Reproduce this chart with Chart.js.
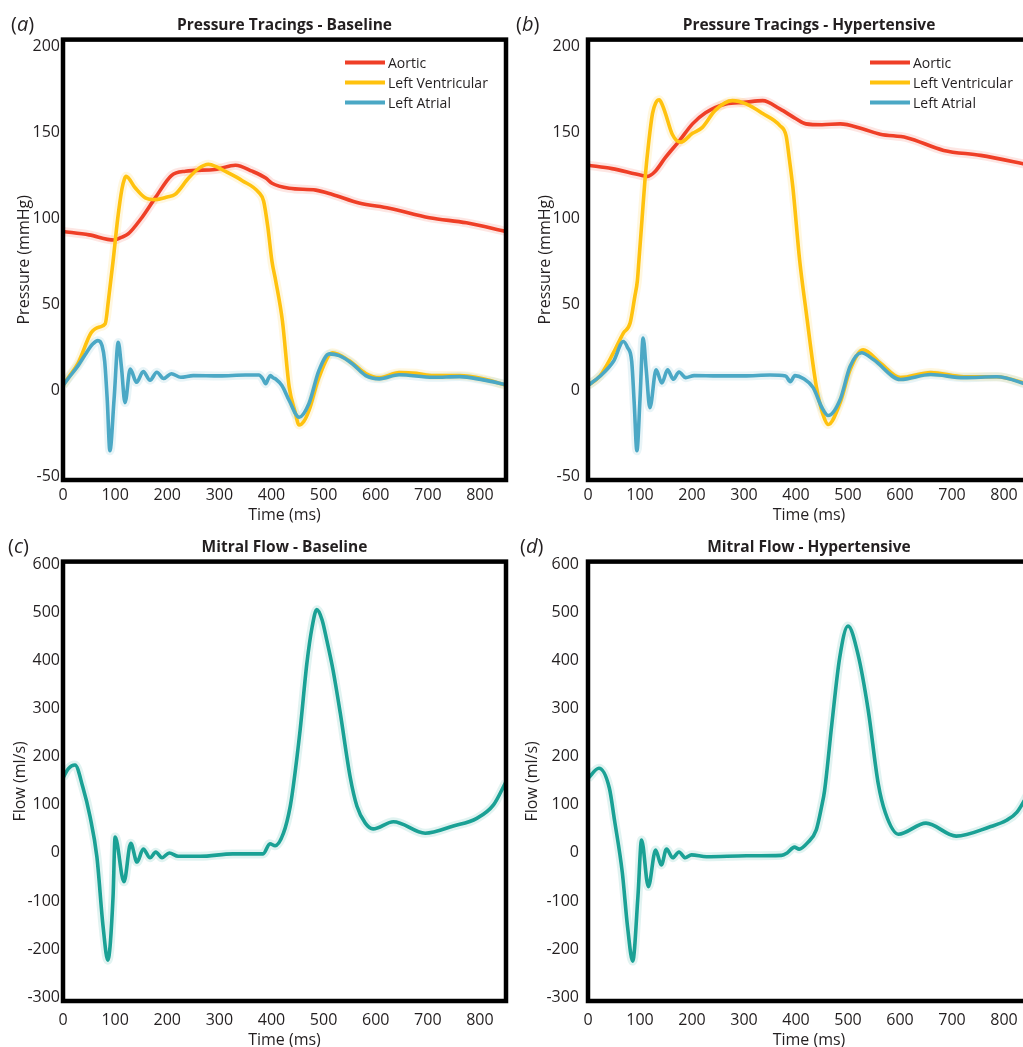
<!DOCTYPE html>
<html><head><meta charset="utf-8">
<script src="https://cdn.jsdelivr.net/npm/chart.js@4.4.1/dist/chart.umd.min.js"></script>
<style>
html,body{margin:0;padding:0;background:#fff;overflow:hidden;width:1023px;height:1047px;position:relative;}
.panel{position:absolute;}
.lab{position:absolute;font-family:'Open Sans',sans-serif;font-size:20px;color:#231f20;line-height:24px;}
</style></head><body>
<div class="panel" style="left:0;top:0;width:515px;height:528px"><canvas id="ca"></canvas></div>
<div class="panel" style="left:512px;top:0;width:527px;height:528px"><canvas id="cb"></canvas></div>
<div class="panel" style="left:0;top:530px;width:515px;height:525px"><canvas id="cc"></canvas></div>
<div class="panel" style="left:512px;top:530px;width:527px;height:525px"><canvas id="cd"></canvas></div>
<div class="lab" style="left:11px;top:12px">(<i>a</i>)</div>
<div class="lab" style="left:516px;top:12px">(<i>b</i>)</div>
<div class="lab" style="left:8px;top:534px">(<i>c</i>)</div>
<div class="lab" style="left:520px;top:534px">(<i>d</i>)</div>
<script>
// ---------- data (time in ms) ----------
const xTicksMs = [0,100,200,300,400,500,600,700,800];

// Panel a: Baseline pressures (mmHg)
const tAoBase = [0,50,98,112,125,150,177,208,235,292,331,363,389,401,434,485,517,568,626,703,774,850];
const pAoBase = [92.5,90.5,87.5,89,91,100,112,125,127.5,128.5,131,127.5,123.5,120.5,117.6,116.5,114,109,106,100.5,97.5,92.5];
const tLvBase = [0,10,29,54,70,81,87,96,105,113,118,121,138,158,177,200,215,241,260,279,295,311,344,376,385,393,401,408,421,434,445,453,462,472,491,517,549,581,607,645,678,710,761,806,850];
const pLvBase = [3,7.5,16,33.6,37,38.8,52,75,100,117,123,124.5,118,112,111,112.5,114,123.5,129,131.5,130,127.5,122,115,110,95,75,64,40.5,2,-12,-20,-18,-11.6,7.5,22,17.4,9.9,7.5,10.4,10,8.7,8.7,6.8,3];
const tLaBase = [0,10,29,45,57,67,75,80,85,90,98,106,112,119,129,141,154,167,180,193,208,226,250,300,350,376,383,389,394,398,403,408,420,434,453,472,491,511,530,555,581,607,645,710,761,806,850];
const pLaBase = [3,7,14.5,22,27,29,26,17,-6,-35,-5,28,14,-7,12.5,4.8,11,6,10.6,7,9.8,7.7,8.7,8.5,9,9,7,4,7,8.7,7.5,6.7,2.9,-5.8,-15.5,-7.5,11.6,21.3,20.3,15.6,8.7,6.8,9.2,7.7,8.1,6.2,3.5];

// Panel b: Hypertensive pressures (mmHg)
const tAoHyp = [0,46,104,115,128,149,176,201,226,265,300,336,369,400,419,450,485,529,562,613,684,755,850];
const pAoHyp = [131,129,125,124.5,127,135.5,145.3,155,161.5,166.6,167.5,168.5,163.7,158,155,154.5,155,152,149,147,139.6,136.7,131];
const tLvHyp = [0,23,49,68,81,90,95,98,104,110,117,124,130,137,143,149,162,178,201,220,245,278,304,336,369,381,387,394,407,419,439,452,462,485,504,529,562,601,659,723,786,850];
const pLvHyp = [3,8.5,22,33.4,39.2,54.6,64,75.8,100,124,145,161,167,169,166,161,149,144.4,149.5,153,163,168.5,166.6,161,154,148,135,118,75.8,47,2.5,-14,-19.7,-7,12,23.7,16,7.5,10.5,8,8,3.5];
const tLaHyp = [0,23,49,68,76,84,89,94,100,106,112,119,131,142,153,164,175,188,204,250,300,350,380,389,398,414,433,450,462,485,504,526,549,601,659,723,786,850];
const pLaHyp = [3,8.3,17,28.5,25,17,-8,-35,-5,30.5,12,-10,12,4.4,12,6.6,10.8,7.5,8.7,8.5,8.5,9,8.5,5.2,8.7,7,1.7,-10,-14.5,-5.2,14,22,18,6.4,9.3,7.5,8,3];

// Panel c: Baseline mitral flow (ml/s)
const tFlowBase = [0,10,23,38,52,65,77,86,96,100,117,130,142,154,167,178,190,204,221,263,326,384,397,407,423,436,442,455,468,478,487,497,506,518,532,551,564,580,595,634,695,749,794,826,850];
const qFlowBase = [156,175,183,137,75,-8,-154,-223,-92,33,-60,20,-19,8,-10,1.6,-10,0,-7,-7,-2,-2,19,15,41,97,140,256,395,470,506,485,443,381,291,158,97,62,50,65,41,56,72,100,148];

// Panel d: Hypertensive mitral flow (ml/s)
const tFlowHyp = [0,21,41,51,66,76,86,96,103,116,130,141,151,163,175,187,199,228,305,372,383,397,406,422,439,449,455,469,484,500,519,539,558,572,597,650,708,772,805,825,850];
const qFlowHyp = [155,176,135,68,-41,-153,-225,-91,27,-70,6,-25,8,-10,2,-10,-4,-8,-6,-5,0,12,8,21,48,95,130,269,406,472,414,296,145,83,39,62,35,54,68,85,130];

// ---------- styling ----------
const FONT = "'Open Sans', sans-serif";
const INK = '#231f20';
const C_AO = '#EF3F27', C_LV = '#FFC20E', C_LA = '#4BA8C5', C_FLOW = '#1AA195';
const fade = (hex, a) => {
  const n = parseInt(hex.slice(1), 16);
  return `rgba(${n>>16&255},${n>>8&255},${n&255},${a})`;
};
const pts = (t, v) => t.map((x, i) => ({x, y: v[i]}));

const frame = {
  id: 'frame',
  afterDatasetsDraw(chart) {
    const {ctx, chartArea: a} = chart;
    ctx.save();
    ctx.strokeStyle = '#000';
    ctx.lineWidth = 4.5;
    ctx.strokeRect(a.left, a.top, a.right - a.left, a.bottom - a.top);
    ctx.restore();
  }
};
const miniLegend = {
  id: 'miniLegend',
  afterDraw(chart, args, opts) {
    if (!opts.items) return;
    const {ctx, chartArea: a} = chart;
    ctx.save();
    ctx.font = `14px ${FONT}`;
    ctx.textBaseline = 'middle';
    ctx.fillStyle = INK;
    opts.items.forEach((it, i) => {
      const y = a.top + 23 + i * 20;
      const x0 = a.left + 282;
      ctx.strokeStyle = it.color;
      ctx.lineWidth = 4;
      ctx.beginPath(); ctx.moveTo(x0, y); ctx.lineTo(x0 + 40, y); ctx.stroke();
      ctx.fillText(it.label, x0 + 43, y + 1);
    });
    ctx.restore();
  }
};

function line(label, data, color, order) {
  return {label, data, borderColor: color, borderWidth: 3.6, pointRadius: 0,
          cubicInterpolationMode: 'monotone', fill: false, order};
}
function halo(data, color) {
  return {label: '', data, borderColor: fade(color, 0.13), borderWidth: 9, pointRadius: 0,
          cubicInterpolationMode: 'monotone', fill: false, order: 10};
}

function makeChart(id, cfg) {
  return new Chart(document.getElementById(id), {
    type: 'line',
    data: {datasets: cfg.datasets},
    plugins: [frame, miniLegend],
    options: {
      responsive: true, maintainAspectRatio: false, animation: false, events: [],
      layout: {padding: {left: 0, right: 9, top: 0, bottom: 0}},
      plugins: {
        legend: {display: false}, tooltip: {enabled: false},
        title: {display: true, text: cfg.title, color: INK, fullSize: false,
                font: {family: FONT, size: 15.5, weight: 'bold'},
                padding: {top: cfg.titlePadTop, bottom: cfg.titlePadBottom}},
        miniLegend: {items: cfg.legend}
      },
      scales: {
        x: {type: 'linear', min: 0, max: 850,
            afterFit(s) { s.height = cfg.xH; },
            grid: {display: false, drawTicks: false}, border: {display: false},
            ticks: {stepSize: 100, includeBounds: false, color: INK, padding: cfg.xTickPad,
                    font: {family: FONT, size: 16}, maxRotation: 0,
                    callback: v => xTicksMs.includes(v) ? String(v) : ''},
            title: {display: true, text: 'Time (ms)', color: INK,
                    font: {family: FONT, size: 16}, padding: {top: 0, bottom: cfg.xTitlePad}}},
        y: {type: 'linear', min: cfg.yMin, max: cfg.yMax,
            afterFit(s) { s.width = cfg.yW; },
            grid: {display: false, drawTicks: false}, border: {display: false},
            ticks: {stepSize: cfg.yStep, includeBounds: false, color: INK, padding: cfg.yTickPad,
                    font: {family: FONT, size: 16}},
            title: {display: true, text: cfg.yTitle, color: INK,
                    font: {family: FONT, size: 16}, padding: {top: cfg.yTitlePad, bottom: 0}}}
      }
    }
  });
}

const pressLegend = [{label: 'Aortic', color: C_AO}, {label: 'Left Ventricular', color: C_LV}, {label: 'Left Atrial', color: C_LA}];

makeChart('ca', {
  title: 'Pressure Tracings - Baseline', titlePadTop: 16, titlePadBottom: 5,
  yMin: -52, yMax: 204, yStep: 50, yW: 63, yTickPad: 3, yTitle: 'Pressure (mmHg)', yTitlePad: 15,
  xH: 48, xTickPad: 6, xTitlePad: 3, legend: pressLegend,
  datasets: [
    line('Left Atrial', pts(tLaBase, pLaBase), C_LA, 1),
    line('Left Ventricular', pts(tLvBase, pLvBase), C_LV, 2),
    line('Aortic', pts(tAoBase, pAoBase), C_AO, 3),
    halo(pts(tLaBase, pLaBase), C_LA), halo(pts(tLvBase, pLvBase), C_LV), halo(pts(tAoBase, pAoBase), C_AO)
  ]
});
makeChart('cb', {
  title: 'Pressure Tracings - Hypertensive', titlePadTop: 16, titlePadBottom: 5,
  yMin: -52, yMax: 204, yStep: 50, yW: 76, yTickPad: 8, yTitle: 'Pressure (mmHg)', yTitlePad: 24,
  xH: 48, xTickPad: 6, xTitlePad: 3, legend: pressLegend,
  datasets: [
    line('Left Atrial', pts(tLaHyp, pLaHyp), C_LA, 1),
    line('Left Ventricular', pts(tLvHyp, pLvHyp), C_LV, 2),
    line('Aortic', pts(tAoHyp, pAoHyp), C_AO, 3),
    halo(pts(tLaHyp, pLaHyp), C_LA), halo(pts(tLvHyp, pLvHyp), C_LV), halo(pts(tAoHyp, pAoHyp), C_AO)
  ]
});
makeChart('cc', {
  title: 'Mitral Flow - Baseline', titlePadTop: 8, titlePadBottom: 5,
  yMin: -308, yMax: 606, yStep: 100, yW: 63, yTickPad: 3, yTitle: 'Flow (ml/s)', yTitlePad: 11,
  xH: 54, xTickPad: 10, xTitlePad: 5, legend: null,
  datasets: [line('Flow', pts(tFlowBase, qFlowBase), C_FLOW, 1), halo(pts(tFlowBase, qFlowBase), C_FLOW)]
});
makeChart('cd', {
  title: 'Mitral Flow - Hypertensive', titlePadTop: 8, titlePadBottom: 5,
  yMin: -308, yMax: 606, yStep: 100, yW: 76, yTickPad: 9, yTitle: 'Flow (ml/s)', yTitlePad: 11,
  xH: 54, xTickPad: 10, xTitlePad: 5, legend: null,
  datasets: [line('Flow', pts(tFlowHyp, qFlowHyp), C_FLOW, 1), halo(pts(tFlowHyp, qFlowHyp), C_FLOW)]
});
</script>
</body></html>
